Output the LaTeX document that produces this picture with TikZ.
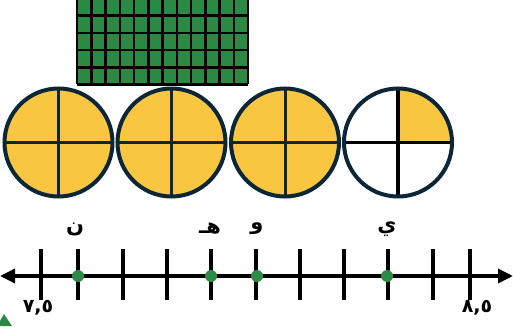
\documentclass[tikz,border=0pt]{standalone}
\usepackage{fontspec}
\newfontfamily\arabicfont[Script=Arabic]{DejaVu Sans}
\TeXXeTstate=1
\usetikzlibrary{arrows.meta}
\definecolor{gridgreen}{HTML}{2A8A44}
\definecolor{dotgreen}{HTML}{2E8B47}
\definecolor{pieyellow}{HTML}{F9C642}
\definecolor{rimnavy}{HTML}{0B2737}
\tikzset{
  rim/.style={draw=rimnavy, line width=4},
  cut/.style={draw=rimnavy, line width=3},
  tick/.style={line width=3.2, black},
  lbl/.style={font=\arabicfont\bfseries\fontsize{21}{22}\selectfont},
  num/.style={font=\arabicfont\bfseries\fontsize{19}{20}\selectfont},
}
\begin{document}
\begin{tikzpicture}[x=1pt, y=-1pt]
  \useasboundingbox (0,0) rectangle (513,326);
  \clip (0,0) rectangle (513,326);

  % hundred grid
  \fill[gridgreen] (77,-1.5) rectangle (248,84.5);
  \foreach \i in {0,...,12}
    \draw[line width=2.5, black] ({77+\i*14.25},-1.5) -- ({77+\i*14.25},84.5);
  \foreach \j in {0,...,5}
    \draw[line width=2.5, black] (77,{84.5-\j*17.2}) -- (248,{84.5-\j*17.2});

  % whole circles
  \foreach \cx in {58.5,171.5,285} {
    \fill[pieyellow] (\cx,142.5) circle (54);
    \draw[cut] (\cx-54,142.5) -- (\cx+54,142.5);
    \draw[cut] (\cx,88.5) -- (\cx,196.5);
    \draw[rim] (\cx,142.5) circle (54);
  }

  % quarter circle
  \fill[pieyellow] (398,142.5) -- (452,142.5) arc[start angle=0, end angle=-90, radius=54] -- cycle;
  \draw[line width=3.5, black] (344,142.5) -- (452,142.5);
  \draw[line width=3.5, black] (398,88.5) -- (398,196.5);
  \draw[rim] (398,142.5) circle (54);

  % number line
  \draw[line width=3.5, {Triangle[length=15,width=14]}-{Triangle[length=15,width=14]}] (0,276) -- (513,276);
  \foreach \tx in {41,78,123,167,211,256,300,344,388,433,470}
    \draw[tick] (\tx,249) -- (\tx,300);
  \foreach \px in {78,211,257,387}
    \fill[dotgreen] (\px,276) circle (6);

  \node[lbl] (n) at (75,229) {\beginR ن\endR};
  \node[lbl] (h) at (210,229) {\beginR هـ\endR};
  \node[lbl] (w) at (257,229) {\beginR و\endR};
  \node[lbl] (y) at (387,229) {\beginR ي\endR};
  \node[num] (lo) at (38,308) {٧,٥};
  \node[num] (hi) at (477,308) {٨,٥};

  % corner fragment
  \fill[gridgreen] (0,326) -- (0,321) -- (4,314) -- (12,326) -- cycle;
\end{tikzpicture}
\end{document}
